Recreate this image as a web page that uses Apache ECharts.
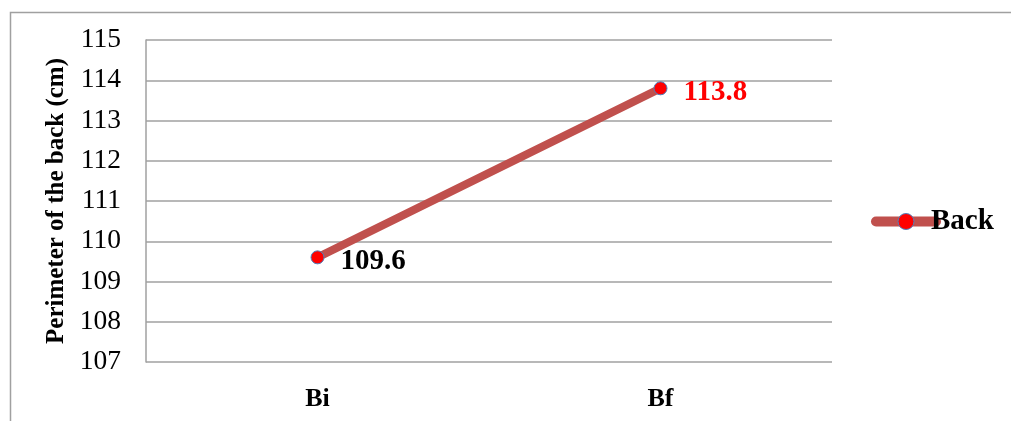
<!DOCTYPE html>
<html><head><meta charset="utf-8">
<script src="https://cdn.jsdelivr.net/npm/echarts@6/dist/echarts.min.js"></script>
<style>html,body{margin:0;padding:0;background:#fff}#c{width:1011px;height:421px}</style>
</head><body><div id="c"></div>
<script>
const categories = ['Bi', 'Bf'];
const backValues = [109.6, 113.8];
const seriesName = 'Back';
const yTicks = { min: 107, max: 115, interval: 1 };
const axisName = 'Perimeter of the back (cm)';
const labelColors = ['#000000', '#ff0000'];

const serif = '"Liberation Serif", "DejaVu Serif", serif';
const chart = echarts.init(document.getElementById('c'), null, { renderer: 'canvas' });
chart.setOption({
  animation: false,
  backgroundColor: '#fff',
  graphic: [{
    type: 'rect', left: 8, top: 10, z: -1,
    shape: { width: 1020, height: 430 },
    style: { fill: 'none', stroke: '#a0a0a0', lineWidth: 1.5 }
  }],
  grid: { left: 146, top: 40, width: 686, height: 322, containLabel: false },
  legend: {
    data: [seriesName], left: 866, top: 202, orient: 'vertical',
    itemWidth: 60, itemHeight: 20, itemGap: 4,
    lineStyle: { width: 10, cap: 'round', color: '#c0504d' },
    itemStyle: { color: '#ff0000', borderColor: '#4f81bd', borderWidth: 1 },
    textStyle: { fontFamily: serif, fontWeight: 'bold', fontSize: 29, color: '#000', padding: [0, 0, 0, -10] }
  },
  xAxis: {
    type: 'category', data: categories, boundaryGap: true,
    axisLine: { show: false }, axisTick: { show: false },
    axisLabel: { fontFamily: serif, fontWeight: 'bold', fontSize: 26, color: '#000', margin: 24 }
  },
  yAxis: {
    type: 'value', min: yTicks.min, max: yTicks.max, interval: yTicks.interval,
    name: axisName, nameLocation: 'middle', nameGap: 76,
    nameTextStyle: { fontFamily: serif, fontWeight: 'bold', fontSize: 25, color: '#000' },
    axisLine: { show: true, lineStyle: { color: '#a0a0a0', width: 1.5 } },
    axisTick: { show: false },
    splitLine: { lineStyle: { color: '#a0a0a0', width: 1.5 } },
    axisLabel: { fontFamily: serif, fontSize: 27.5, color: '#000', margin: 25 }
  },
  series: [{
    name: seriesName, type: 'line',
    data: backValues.map((v, i) => ({
      value: v,
      label: { color: labelColors[i] }
    })),
    lineStyle: { color: '#c0504d', width: 8, cap: 'round' },
    itemStyle: { color: '#ff0000', borderColor: '#4f81bd', borderWidth: 1 },
    symbol: 'circle', symbolSize: 13,
    label: {
      show: true, position: 'right', distance: 16,
      fontFamily: serif, fontWeight: 'bold', fontSize: 29,
      formatter: p => p.value.toFixed(1), offset: [0, 4]
    }
  }]
});
</script></body></html>
